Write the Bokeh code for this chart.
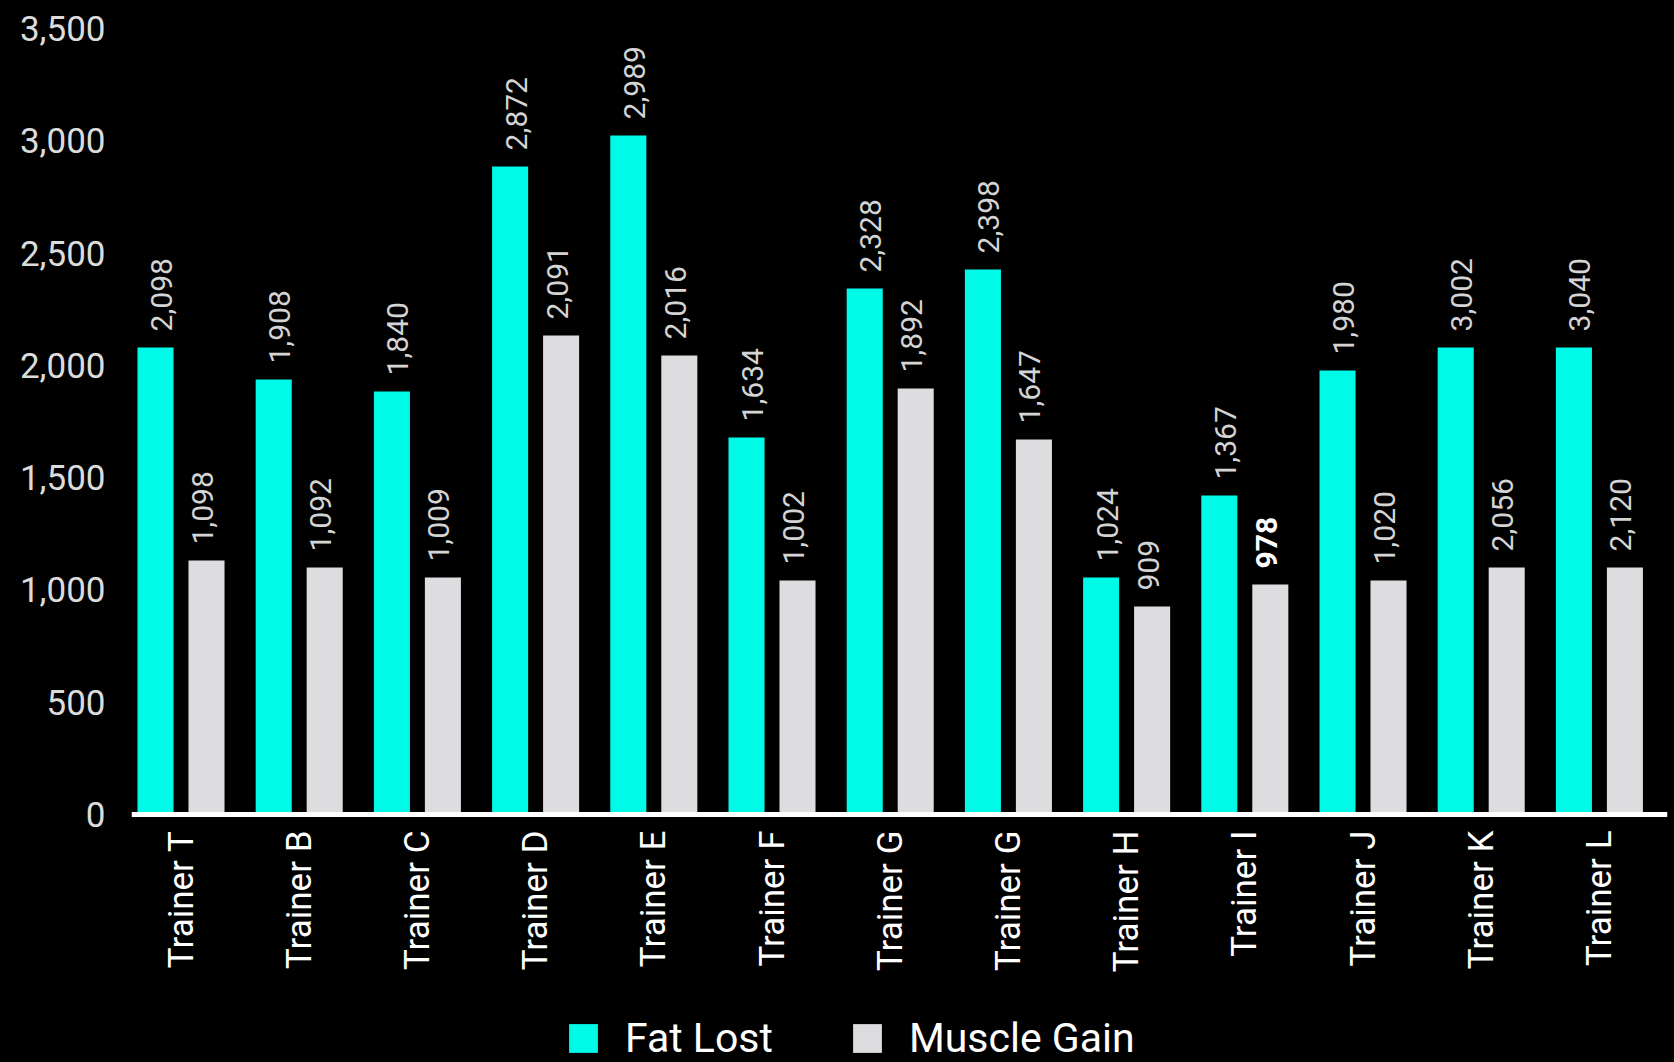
import math
from bokeh.plotting import figure
from bokeh.models import ColumnDataSource, FixedTicker, NumeralTickFormatter, Legend, LegendItem
from bokeh.core.properties import value
from bokeh.embed import file_html
from bokeh.resources import INLINE

trainers = ["Trainer T", "Trainer B", "Trainer C", "Trainer D", "Trainer E", "Trainer F", "Trainer G",
            "Trainer G", "Trainer H", "Trainer I", "Trainer J", "Trainer K", "Trainer L"]
# bar heights as drawn
fat_lost = [2080, 1937, 1884, 2886, 3024, 1679, 2342, 2427, 1055, 1420, 1977, 2080, 2080]
muscle_gain = [1131, 1100, 1055, 2133, 2044, 1042, 1897, 1670, 926, 1024, 1042, 1100, 1100]
# value labels as printed
fat_labels = ["2,098", "1,908", "1,840", "2,872", "2,989", "1,634", "2,328", "2,398", "1,024", "1,367", "1,980", "3,002", "3,040"]
muscle_labels = ["1,098", "1,092", "1,009", "2,091", "2,016", "1,002", "1,892", "1,647", "909", "978", "1,020", "2,056", "2,120"]
muscle_bold = [False, False, False, False, False, False, False, False, False, True, False, False, False]
y_ticks = [0, 500, 1000, 1500, 2000, 2500, 3000, 3500]

FAT_C = "#00FAE8"
MUS_C = "#DDDCDF"
FONT = "Roboto"

n = len(trainers)
xs = list(range(n))
off = 0.2157
bw = 0.305

# frame spans from top border down to the bottom of the page; 0 sits 248px above the bottom
Y_TOP = 3500
Y_BOTTOM = -248 * 3500 / 786

p = figure(width=1668, height=1062, output_backend="svg", toolbar_location=None,
           x_range=(-0.4188, 12.576), y_range=(Y_BOTTOM, Y_TOP),
           min_border_left=131, min_border_right=1, min_border_top=28, min_border_bottom=0,
           background_fill_color="black", border_fill_color="black", outline_line_color=None)
p.grid.visible = False

fat_src = ColumnDataSource(dict(x=[x - off for x in xs], top=fat_lost, lab=fat_labels))
mus_src = ColumnDataSource(dict(x=[x + off for x in xs], top=muscle_gain, lab=muscle_labels,
                                style=["bold" if b else "normal" for b in muscle_bold],
                                col=["#ffffff" if b else "#d4d4d4" for b in muscle_bold]))

r1 = p.vbar(x="x", top="top", width=bw, bottom=0, source=fat_src, fill_color=FAT_C, line_color=None)
r2 = p.vbar(x="x", top="top", width=bw, bottom=0, source=mus_src, fill_color=MUS_C, line_color=None)

p.text(x="x", y="top", text="lab", source=fat_src, angle=math.pi / 2, x_offset=6, y_offset=-16,
       text_align="left", text_baseline="middle", text_font=value(FONT), text_font_size="30px",
       text_color="#d4d4d4")
p.text(x="x", y="top", text="lab", source=mus_src, angle=math.pi / 2, x_offset=-4, y_offset=-16,
       text_align="left", text_baseline="middle", text_font=value(FONT), text_font_size="30px",
       text_color="col", text_font_style="style")

# axes
p.yaxis.ticker = FixedTicker(ticks=y_ticks)
p.yaxis.formatter = NumeralTickFormatter(format="0,0")
p.yaxis.axis_line_color = None
p.yaxis.major_tick_line_color = None
p.yaxis.minor_tick_line_color = None
p.yaxis.major_label_text_font = FONT
p.yaxis.major_label_text_font_size = "35px"
p.yaxis.major_label_text_color = "#dcdcdc"
p.yaxis.major_label_standoff = 20

p.xaxis.fixed_location = 0
p.xaxis.ticker = FixedTicker(ticks=xs)
p.xaxis.major_label_overrides = {i: t for i, t in enumerate(trainers)}
p.xaxis.major_label_orientation = math.pi / 2
p.xaxis.axis_line_color = "white"
p.xaxis.axis_line_width = 5
p.xaxis.major_tick_line_color = None
p.xaxis.minor_tick_line_color = None
p.xaxis.major_label_text_font = FONT
p.xaxis.major_label_text_font_size = "35px"
p.xaxis.major_label_text_color = "white"
p.xaxis.major_label_standoff = 10

legend = Legend(items=[LegendItem(label="Fat Lost", renderers=[r1]),
                       LegendItem(label="Muscle Gain", renderers=[r2])],
                orientation="horizontal", location=(434, 0),
                glyph_width=36, glyph_height=36, label_standoff=24, spacing=76,
                padding=0, margin=0, border_line_color=None, background_fill_alpha=0,
                label_text_font=FONT, label_text_font_size="41px", label_text_color="white")
p.add_layout(legend, "center")

html = file_html(p, INLINE)
html = html.replace("</head>", "<style>html, body { background: black; margin: 0; }</style></head>", 1)
open("out.html", "w").write(html)
